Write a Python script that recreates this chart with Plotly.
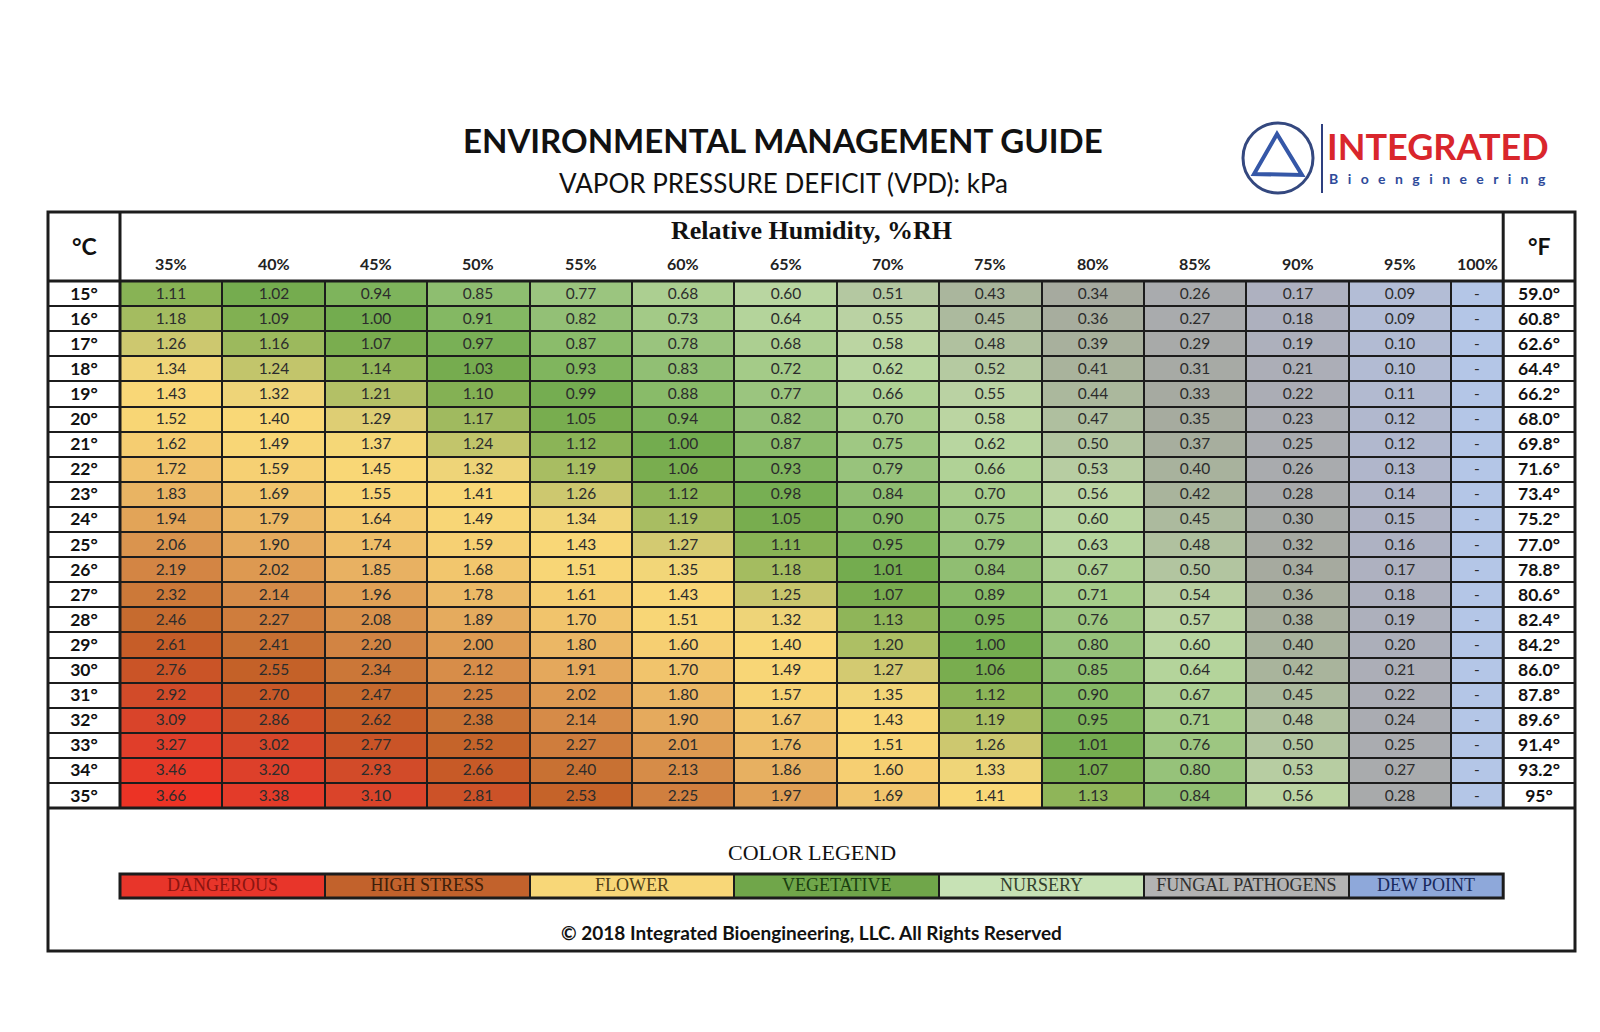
import plotly.graph_objects as go

# ---------------- DATA ----------------
temps_c = [15, 16, 17, 18, 19, 20, 21, 22, 23, 24, 25, 26, 27, 28, 29, 30, 31, 32, 33, 34, 35]
temps_f = ["59.0°", "60.8°", "62.6°", "64.4°", "66.2°", "68.0°", "69.8°", "71.6°", "73.4°", "75.2°",
           "77.0°", "78.8°", "80.6°", "82.4°", "84.2°", "86.0°", "87.8°", "89.6°", "91.4°", "93.2°", "95°"]
rh_labels = ["35%", "40%", "45%", "50%", "55%", "60%", "65%", "70%", "75%", "80%", "85%", "90%", "95%", "100%"]

vpd_15 = [1.11, 1.02, 0.94, 0.85, 0.77, 0.68, 0.60, 0.51, 0.43, 0.34, 0.26, 0.17, 0.09, 0.0]
vpd_16 = [1.18, 1.09, 1.00, 0.91, 0.82, 0.73, 0.64, 0.55, 0.45, 0.36, 0.27, 0.18, 0.09, 0.0]
vpd_17 = [1.26, 1.16, 1.07, 0.97, 0.87, 0.78, 0.68, 0.58, 0.48, 0.39, 0.29, 0.19, 0.10, 0.0]
vpd_18 = [1.34, 1.24, 1.14, 1.03, 0.93, 0.83, 0.72, 0.62, 0.52, 0.41, 0.31, 0.21, 0.10, 0.0]
vpd_19 = [1.43, 1.32, 1.21, 1.10, 0.99, 0.88, 0.77, 0.66, 0.55, 0.44, 0.33, 0.22, 0.11, 0.0]
vpd_20 = [1.52, 1.40, 1.29, 1.17, 1.05, 0.94, 0.82, 0.70, 0.58, 0.47, 0.35, 0.23, 0.12, 0.0]
vpd_21 = [1.62, 1.49, 1.37, 1.24, 1.12, 1.00, 0.87, 0.75, 0.62, 0.50, 0.37, 0.25, 0.12, 0.0]
vpd_22 = [1.72, 1.59, 1.45, 1.32, 1.19, 1.06, 0.93, 0.79, 0.66, 0.53, 0.40, 0.26, 0.13, 0.0]
vpd_23 = [1.83, 1.69, 1.55, 1.41, 1.26, 1.12, 0.98, 0.84, 0.70, 0.56, 0.42, 0.28, 0.14, 0.0]
vpd_24 = [1.94, 1.79, 1.64, 1.49, 1.34, 1.19, 1.05, 0.90, 0.75, 0.60, 0.45, 0.30, 0.15, 0.0]
vpd_25 = [2.06, 1.90, 1.74, 1.59, 1.43, 1.27, 1.11, 0.95, 0.79, 0.63, 0.48, 0.32, 0.16, 0.0]
vpd_26 = [2.19, 2.02, 1.85, 1.68, 1.51, 1.35, 1.18, 1.01, 0.84, 0.67, 0.50, 0.34, 0.17, 0.0]
vpd_27 = [2.32, 2.14, 1.96, 1.78, 1.61, 1.43, 1.25, 1.07, 0.89, 0.71, 0.54, 0.36, 0.18, 0.0]
vpd_28 = [2.46, 2.27, 2.08, 1.89, 1.70, 1.51, 1.32, 1.13, 0.95, 0.76, 0.57, 0.38, 0.19, 0.0]
vpd_29 = [2.61, 2.41, 2.20, 2.00, 1.80, 1.60, 1.40, 1.20, 1.00, 0.80, 0.60, 0.40, 0.20, 0.0]
vpd_30 = [2.76, 2.55, 2.34, 2.12, 1.91, 1.70, 1.49, 1.27, 1.06, 0.85, 0.64, 0.42, 0.21, 0.0]
vpd_31 = [2.92, 2.70, 2.47, 2.25, 2.02, 1.80, 1.57, 1.35, 1.12, 0.90, 0.67, 0.45, 0.22, 0.0]
vpd_32 = [3.09, 2.86, 2.62, 2.38, 2.14, 1.90, 1.67, 1.43, 1.19, 0.95, 0.71, 0.48, 0.24, 0.0]
vpd_33 = [3.27, 3.02, 2.77, 2.52, 2.27, 2.01, 1.76, 1.51, 1.26, 1.01, 0.76, 0.50, 0.25, 0.0]
vpd_34 = [3.46, 3.20, 2.93, 2.66, 2.40, 2.13, 1.86, 1.60, 1.33, 1.07, 0.80, 0.53, 0.27, 0.0]
vpd_35 = [3.66, 3.38, 3.10, 2.81, 2.53, 2.25, 1.97, 1.69, 1.41, 1.13, 0.84, 0.56, 0.28, 0.0]

vpd = [vpd_15, vpd_16, vpd_17, vpd_18, vpd_19, vpd_20, vpd_21, vpd_22, vpd_23, vpd_24, vpd_25,
       vpd_26, vpd_27, vpd_28, vpd_29, vpd_30, vpd_31, vpd_32, vpd_33, vpd_34, vpd_35]

legend_labels = ["DANGEROUS", "HIGH STRESS", "FLOWER", "VEGETATIVE", "NURSERY", "FUNGAL PATHOGENS", "DEW POINT"]

# ---------------- STYLE / LAYOUT CONSTANTS ----------------
W, H = 1600, 1032
COLW = 102.4           # px per data column
ROWH = 25.1            # px per row
GRID_L = 120           # px, left edge of data grid
HEAD_B = 281           # px, header bottom edge
BOX_L, BOX_R, BOX_T, BOX_B = 48, 1575, 212, 951
NARROW = 52 / COLW     # width of the 100% column in column units


def xd(px):
    return (px - GRID_L) / COLW


def yd(py):
    return temps_c[0] - 0.5 + (py - HEAD_B) / ROWH


x_edges = list(range(len(rh_labels))) + [len(rh_labels) - 1 + NARROW]
x_centers = [(x_edges[i] + x_edges[i + 1]) / 2 for i in range(len(rh_labels))]
y_top_grid = temps_c[0] - 0.5
y_bot_grid = temps_c[-1] + 0.5
x_left_box = xd(BOX_L)
x_right_box = xd(BOX_R)
x_data_end = x_edges[-1]

ZMAX = 3.66
stops = [
    (0.00, "#b4c6e7"), (0.09, "#b3bdd6"), (0.15, "#afb3c5"), (0.22, "#abadb5"),
    (0.28, "#a8aaab"), (0.34, "#a6aa9f"), (0.42, "#a9b49c"), (0.50, "#b2c5a0"),
    (0.56, "#bcd5a3"), (0.62, "#b8d6a0"), (0.70, "#a8cd8c"), (0.80, "#96c27a"),
    (0.90, "#86b965"), (1.00, "#73ac4f"), (1.07, "#7aad4f"), (1.12, "#8bb457"),
    (1.19, "#a8bd62"), (1.26, "#cdc86f"), (1.32, "#eed478"), (1.40, "#f9d877"),
    (1.55, "#f8d575"), (1.70, "#f1c46c"), (1.85, "#e8b162"), (2.00, "#de9b52"),
    (2.20, "#d28443"), (2.40, "#c87133"), (2.55, "#c46128"), (2.75, "#c95527"),
    (3.00, "#d6472a"), (3.30, "#e13d2a"), (3.66, "#ec3325"),
]
cscale = [[v / ZMAX, c] for v, c in stops]

legend_colors = ["#e8352a", "#c2622c", "#f8d778", "#70a64a", "#c7e2b5", "#b3b3b3", "#8ea8da"]
legend_text_colors = ["#8a1410", "#3e1e0a", "#4e3f18", "#1a3f10", "#33402c", "#2f2f2f", "#18295c"]

LINE = "#1c1c1c"
SANS = "Lato"
SERIF = "Liberation Serif"

cell_text = [["-" if j == len(rh_labels) - 1 else f"{v:.2f}" for j, v in enumerate(row)] for row in vpd]

fig = go.Figure()

# main VPD grid
fig.add_trace(go.Heatmap(
    z=vpd, x=x_edges, y=temps_c, text=cell_text, texttemplate="%{text}",
    textfont=dict(family=SANS, size=15.5, color="#2c2c2c"),
    colorscale=cscale, zmin=0, zmax=ZMAX, showscale=False,
    xgap=2, ygap=2, hoverinfo="skip",
))

# °C column
fig.add_trace(go.Heatmap(
    z=[[1] for _ in temps_c], x=[x_left_box, 0], y=temps_c,
    text=[[f"<b>{t}°</b>"] for t in temps_c], texttemplate="%{text}",
    textfont=dict(family=SANS, size=17.5, color="#111111"),
    colorscale=[[0, "white"], [1, "white"]], showscale=False,
    xgap=2, ygap=2, hoverinfo="skip",
))

# °F column
fig.add_trace(go.Heatmap(
    z=[[1] for _ in temps_f], x=[x_data_end, x_right_box], y=temps_c,
    text=[[f"<b>{t}</b>"] for t in temps_f], texttemplate="%{text}",
    textfont=dict(family=SANS, size=17.5, color="#111111"),
    colorscale=[[0, "white"], [1, "white"]], showscale=False,
    xgap=2, ygap=2, hoverinfo="skip",
))

# legend bar
n_leg = len(legend_labels)
leg_edges = [min(2 * i, x_data_end) for i in range(n_leg)] + [x_data_end]
leg_centers = [(leg_edges[i] + leg_edges[i + 1]) / 2 for i in range(n_leg)]
leg_y0, leg_y1 = yd(874), yd(898)
leg_scale = []
for i, c in enumerate(legend_colors):
    leg_scale += [[i / n_leg, c], [(i + 1) / n_leg, c]]
fig.add_trace(go.Heatmap(
    z=[list(range(n_leg))], x=leg_edges, y=[leg_y0, leg_y1],
    colorscale=leg_scale, zmin=-0.5, zmax=n_leg - 0.5, showscale=False,
    xgap=2, ygap=0, hoverinfo="skip",
))
fig.add_trace(go.Scatter(
    x=leg_centers, y=[(leg_y0 + leg_y1) / 2] * n_leg, mode="text", text=legend_labels,
    textfont=dict(family=SERIF, size=18, color=legend_text_colors),
    hoverinfo="skip", showlegend=False,
))

shapes = [
    # dark backing so cell gaps read as grid lines
    dict(type="rect", xref="x", yref="y", x0=x_left_box, x1=x_right_box, y0=y_top_grid, y1=y_bot_grid,
         fillcolor=LINE, line=dict(width=0), layer="below"),
    dict(type="rect", xref="x", yref="y", x0=0, x1=x_data_end, y0=leg_y0, y1=leg_y1,
         fillcolor=LINE, line=dict(width=0), layer="below"),
    dict(type="rect", xref="x", yref="y", x0=0, x1=x_data_end, y0=leg_y0, y1=leg_y1,
         line=dict(color=LINE, width=3)),
    # outer box
    dict(type="rect", xref="x domain", yref="y domain", x0=0, x1=1, y0=0, y1=1,
         line=dict(color=LINE, width=3)),
    # thick separators
    dict(type="line", xref="x", yref="y", x0=0, x1=0, y0=yd(BOX_T), y1=y_bot_grid,
         line=dict(color=LINE, width=3)),
    dict(type="line", xref="x", yref="y", x0=x_data_end, x1=x_data_end, y0=yd(BOX_T), y1=y_bot_grid,
         line=dict(color=LINE, width=3)),
    dict(type="line", xref="x", yref="y", x0=x_left_box, x1=x_right_box, y0=y_top_grid, y1=y_top_grid,
         line=dict(color=LINE, width=3)),
    dict(type="line", xref="x", yref="y", x0=x_left_box, x1=x_right_box, y0=y_bot_grid, y1=y_bot_grid,
         line=dict(color=LINE, width=3)),
]


# logo (paper coords from pixels)
def px_x(p):
    return p / W


def px_y(p):
    return 1 - p / H


shapes += [
    dict(type="circle", xref="paper", yref="paper", x0=px_x(1243), x1=px_x(1313), y0=px_y(193), y1=px_y(123),
         line=dict(color="#34487f", width=3)),
    dict(type="path", xref="paper", yref="paper",
         path=f"M {px_x(1277)} {px_y(134)} L {px_x(1254)} {px_y(174)} L {px_x(1302)} {px_y(175)} Z",
         line=dict(color="#3557a7", width=4)),
    dict(type="line", xref="paper", yref="paper", x0=px_x(1322), x1=px_x(1322), y0=px_y(124), y1=px_y(193),
         line=dict(color="#2e3f7f", width=2)),
]

annotations = [
    dict(text="<b>ENVIRONMENTAL MANAGEMENT GUIDE</b>", xref="paper", yref="paper", x=px_x(783), y=px_y(140),
         showarrow=False, font=dict(family=SANS, size=33, color="#111111"), xanchor="center", yanchor="middle"),
    dict(text="VAPOR PRESSURE DEFICIT (VPD): kPa", xref="paper", yref="paper", x=px_x(783), y=px_y(183),
         showarrow=False, font=dict(family=SANS, size=26, color="#111111"), xanchor="center", yanchor="middle"),
    dict(text="<b>INTEGRATED</b>", xref="paper", yref="paper", x=px_x(1325), y=px_y(146),
         showarrow=False, font=dict(family=SANS, size=36, color="#d9262c"), xanchor="left", yanchor="middle"),
    dict(text="<b>" + "\u00a0\u00a0\u2009\u200a".join("Bioengineering") + "</b>", xref="paper", yref="paper",
         x=px_x(1327), y=px_y(179), showarrow=False, font=dict(family=SANS, size=14, color="#2e4a9a"),
         xanchor="left", yanchor="middle"),
    dict(text="<b>Relative Humidity, %RH</b>", xref="x", yref="y", x=x_data_end / 2, y=yd(230),
         showarrow=False, font=dict(family=SERIF, size=26, color="#111111"), xanchor="center", yanchor="middle"),
    dict(text="<b>°C</b>", xref="x", yref="y", x=x_left_box / 2, y=yd(246),
         showarrow=False, font=dict(family=SANS, size=23, color="#111111")),
    dict(text="<b>°F</b>", xref="x", yref="y", x=(x_data_end + x_right_box) / 2, y=yd(246),
         showarrow=False, font=dict(family=SANS, size=23, color="#111111")),
    dict(text="COLOR LEGEND", xref="x", yref="y", x=x_data_end / 2, y=yd(852),
         showarrow=False, font=dict(family=SERIF, size=22, color="#111111")),
    dict(text="<b>© 2018 Integrated Bioengineering, LLC. All Rights Reserved</b>", xref="x", yref="y",
         x=x_data_end / 2, y=yd(932), showarrow=False, font=dict(family=SANS, size=19, color="#111111")),
]
for xc, lab in zip(x_centers, rh_labels):
    annotations.append(dict(text=f"<b>{lab}</b>", xref="x", yref="y", x=xc, y=yd(263), showarrow=False,
                            font=dict(family=SANS, size=16, color="#222222")))

fig.update_layout(
    width=W, height=H, autosize=False,
    margin=dict(l=0, r=0, t=0, b=0),
    paper_bgcolor="white", plot_bgcolor="white",
    showlegend=False,
    xaxis=dict(domain=[BOX_L / W, BOX_R / W], range=[x_left_box, x_right_box], visible=False, fixedrange=True),
    yaxis=dict(domain=[1 - BOX_B / H, 1 - BOX_T / H], range=[yd(BOX_B), yd(BOX_T)], visible=False,
               fixedrange=True),
    shapes=shapes, annotations=annotations,
)

fig.write_html("out.html", config={"displayModeBar": False},
               post_script="document.body.style.margin='0';")
